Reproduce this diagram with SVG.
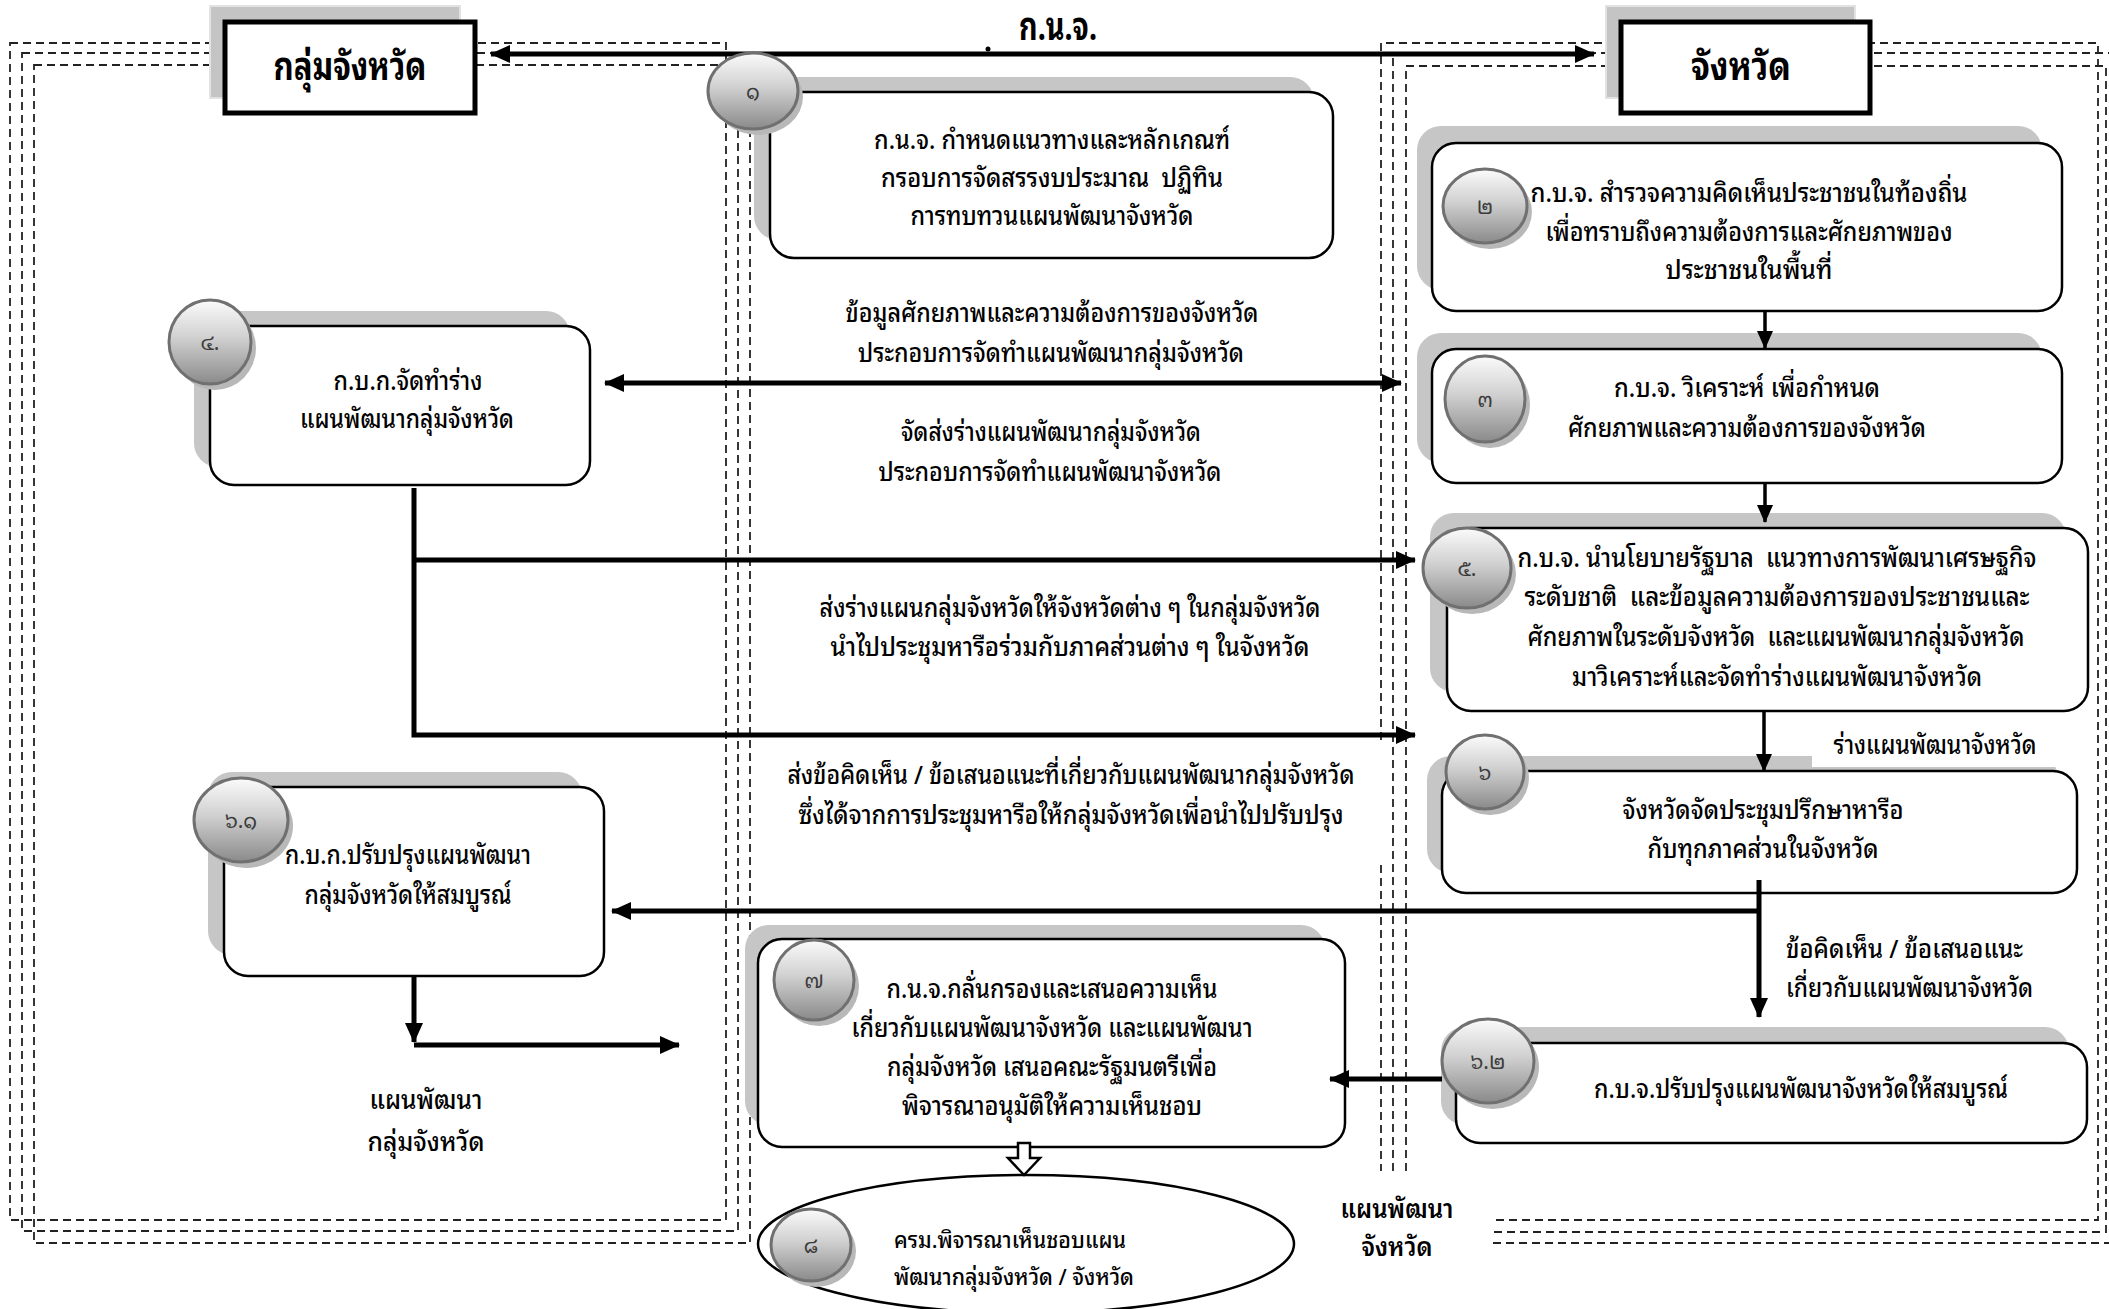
<svg xmlns="http://www.w3.org/2000/svg" width="2109" height="1309" viewBox="0 0 2109 1309">
<defs>
<linearGradient id="ball" x1="0" y1="0" x2="0" y2="1">
<stop offset="0" stop-color="#fbfbfb"/>
<stop offset="0.45" stop-color="#d0d0d0"/>
<stop offset="1" stop-color="#8a8a8a"/>
</linearGradient>
<marker id="ah" viewBox="0 0 20 18" refX="19" refY="9" markerWidth="20" markerHeight="18" markerUnits="userSpaceOnUse" orient="auto-start-reverse">
<path d="M0,0 L20,9 L0,18 z" fill="#000"/>
</marker>
<marker id="ahs" viewBox="0 0 18 16" refX="17" refY="8" markerWidth="18" markerHeight="16" markerUnits="userSpaceOnUse" orient="auto">
<path d="M0,0 L18,8 L0,16 z" fill="#000"/>
</marker>
</defs>
<style>
.t{font-family:"Noto Sans Thai Looped","Noto Sans Thai","Noto Sans","DejaVu Sans",sans-serif;font-size:26px;font-weight:500;fill:#000;text-anchor:middle;white-space:pre}
.ts{font-size:22px}
.l{text-anchor:start}
.hd{font-weight:bold;font-size:38px}
.bd{font-weight:600}
.num{font-family:"Noto Sans Thai Looped","Noto Sans Thai","Noto Sans","DejaVu Sans",sans-serif;font-size:21px;fill:#3c3c3c;text-anchor:middle}
.sh{fill:#c6c6c6}
.box{fill:#fff;stroke:#000;stroke-width:2.5}
.hsh{fill:#c4c4c4;stroke:#e2e2e2;stroke-width:2}
.hbox{fill:#fff;stroke:#000;stroke-width:5}
.bsh{fill:#b8b8b8}
.ball{fill:url(#ball);stroke:#707070;stroke-width:3}
.dash{fill:none;stroke:#222;stroke-width:1.8;stroke-dasharray:8 5}
.c{fill:none;stroke:#000;stroke-width:5}
.cs{fill:none;stroke:#000;stroke-width:3.5}
</style>
<rect width="2109" height="1309" fill="#fff"/>

<g id="frames">
<rect class="dash" x="10" y="43" width="716" height="1177"/>
<rect class="dash" x="22" y="53" width="716" height="1178"/>
<rect class="dash" x="34" y="65" width="716" height="1178"/>
<path class="dash" d="M1381,740 V43 H2098 V1220 H1493 M1381,865 V1171"/>
<path class="dash" d="M1393,1171 V53 H2125 M1493,1243 H2125"/>
<path class="dash" d="M1406,1171 V66 H2106 V1232 H1493"/>
</g>

<g id="connector-top">
<line class="c" x1="491" y1="54" x2="1594" y2="54" marker-start="url(#ah)" marker-end="url(#ah)"/>
<circle cx="988" cy="49" r="2.5" fill="#000"/>
</g>

<g id="hdr-group">
<rect class="hsh" x="210" y="6" width="250" height="92"/>
<rect class="hbox" x="225" y="22" width="250" height="91"/>
<text class="t hd" x="350" y="80" textLength="153" lengthAdjust="spacingAndGlyphs">กลุ่มจังหวัด</text>
</g>
<g id="hdr-province">
<rect class="hsh" x="1606" y="6" width="249" height="92"/>
<rect class="hbox" x="1621" y="22" width="249" height="91"/>
<text class="t hd" x="1741" y="80" textLength="100" lengthAdjust="spacingAndGlyphs">จังหวัด</text>
</g>
<g id="title">
<text class="t hd" x="1058" y="40" font-size="24" textLength="78" lengthAdjust="spacingAndGlyphs">ก.น.จ.</text>
</g>

<g id="n1">
<rect class="sh" x="754" y="77" width="560" height="163" rx="24"/>
<rect class="box" x="770" y="92" width="563" height="166" rx="24"/>
<ellipse class="bsh" cx="758" cy="97" rx="45" ry="38"/>
<ellipse class="ball" cx="753" cy="91" rx="45" ry="38"/>
<text class="num" x="753" y="99">๑</text>
<text class="t" x="1052" y="149" textLength="356" lengthAdjust="spacingAndGlyphs">ก.น.จ. กำหนดแนวทางและหลักเกณฑ์</text>
<text class="t" x="1052" y="187" textLength="342" lengthAdjust="spacingAndGlyphs">กรอบการจัดสรรงบประมาณ  ปฏิทิน</text>
<text class="t" x="1052" y="225" textLength="283" lengthAdjust="spacingAndGlyphs">การทบทวนแผนพัฒนาจังหวัด</text>
</g>

<g id="n2">
<rect class="sh" x="1417" y="126" width="625" height="164" rx="24"/>
<rect class="box" x="1432" y="143" width="630" height="168" rx="24"/>
<ellipse class="bsh" cx="1490" cy="212" rx="42" ry="37"/>
<ellipse class="ball" cx="1485" cy="206" rx="42" ry="37"/>
<text class="num" x="1485" y="214">๒</text>
<text class="t" x="1749" y="202" textLength="437" lengthAdjust="spacingAndGlyphs">ก.บ.จ. สำรวจความคิดเห็นประชาชนในท้องถิ่น</text>
<text class="t" x="1749" y="241" textLength="407" lengthAdjust="spacingAndGlyphs">เพื่อทราบถึงความต้องการและศักยภาพของ</text>
<text class="t" x="1749" y="279" textLength="167" lengthAdjust="spacingAndGlyphs">ประชาชนในพื้นที่</text>
</g>

<g id="n3">
<rect class="sh" x="1417" y="333" width="625" height="130" rx="24"/>
<rect class="box" x="1432" y="349" width="630" height="134" rx="24"/>
<ellipse class="bsh" cx="1490" cy="405" rx="40" ry="43"/>
<ellipse class="ball" cx="1485" cy="399" rx="40" ry="43"/>
<text class="num" x="1485" y="407">๓</text>
<text class="t" x="1747" y="397" textLength="266" lengthAdjust="spacingAndGlyphs">ก.บ.จ. วิเคราะห์ เพื่อกำหนด</text>
<text class="t" x="1747" y="437" textLength="358" lengthAdjust="spacingAndGlyphs">ศักยภาพและความต้องการของจังหวัด</text>
</g>

<g id="n4">
<rect class="sh" x="194" y="311" width="376" height="156" rx="24"/>
<rect class="box" x="210" y="326" width="380" height="159" rx="24"/>
<ellipse class="bsh" cx="215" cy="348" rx="41" ry="42"/>
<ellipse class="ball" cx="210" cy="342" rx="41" ry="42"/>
<text class="num" x="210" y="350">๔.</text>
<text class="t" x="408" y="390" textLength="149" lengthAdjust="spacingAndGlyphs">ก.บ.ก.จัดทำร่าง</text>
<text class="t" x="407" y="428" textLength="214" lengthAdjust="spacingAndGlyphs">แผนพัฒนากลุ่มจังหวัด</text>
</g>

<g id="n5">
<rect class="sh" x="1430" y="513" width="636" height="179" rx="24"/>
<rect class="box" x="1447" y="528" width="641" height="183" rx="24"/>
<ellipse class="bsh" cx="1472" cy="574" rx="44" ry="40"/>
<ellipse class="ball" cx="1467" cy="568" rx="44" ry="40"/>
<text class="num" x="1467" y="576">๕.</text>
<text class="t" x="1777" y="567" textLength="519" lengthAdjust="spacingAndGlyphs">ก.บ.จ. นำนโยบายรัฐบาล  แนวทางการพัฒนาเศรษฐกิจ</text>
<text class="t" x="1777" y="606" textLength="505" lengthAdjust="spacingAndGlyphs">ระดับชาติ  และข้อมูลความต้องการของประชาชนและ</text>
<text class="t" x="1776" y="646" textLength="497" lengthAdjust="spacingAndGlyphs">ศักยภาพในระดับจังหวัด  และแผนพัฒนากลุ่มจังหวัด</text>
<text class="t" x="1777" y="686" textLength="410" lengthAdjust="spacingAndGlyphs">มาวิเคราะห์และจัดทำร่างแผนพัฒนาจังหวัด</text>
</g>

<g id="n6">
<rect class="sh" x="1427" y="756" width="632" height="117" rx="24"/>
<rect class="box" x="1442" y="771" width="635" height="122" rx="24"/>
<ellipse class="bsh" cx="1490" cy="778" rx="39" ry="37"/>
<ellipse class="ball" cx="1485" cy="772" rx="39" ry="37"/>
<text class="num" x="1485" y="780">๖</text>
<text class="t" x="1763" y="819" textLength="281" lengthAdjust="spacingAndGlyphs">จังหวัดจัดประชุมปรึกษาหารือ</text>
<text class="t" x="1763" y="858" textLength="231" lengthAdjust="spacingAndGlyphs">กับทุกภาคส่วนในจังหวัด</text>
</g>

<g id="n61">
<rect class="sh" x="208" y="772" width="374" height="183" rx="24"/>
<rect class="box" x="224" y="787" width="380" height="189" rx="24"/>
<ellipse class="bsh" cx="246" cy="826" rx="47" ry="42"/>
<ellipse class="ball" cx="241" cy="820" rx="47" ry="42"/>
<text class="num" x="241" y="828">๖.๑</text>
<text class="t" x="408" y="864" textLength="246" lengthAdjust="spacingAndGlyphs">ก.บ.ก.ปรับปรุงแผนพัฒนา</text>
<text class="t" x="408" y="904" textLength="207" lengthAdjust="spacingAndGlyphs">กลุ่มจังหวัดให้สมบูรณ์</text>
</g>

<g id="n62">
<rect class="sh" x="1441" y="1027" width="628" height="98" rx="24"/>
<rect class="box" x="1456" y="1043" width="631" height="100" rx="24"/>
<ellipse class="bsh" cx="1493" cy="1067" rx="46" ry="42"/>
<ellipse class="ball" cx="1488" cy="1061" rx="46" ry="42"/>
<text class="num" x="1488" y="1069">๖.๒</text>
<text class="t" x="1801" y="1098" textLength="414" lengthAdjust="spacingAndGlyphs">ก.บ.จ.ปรับปรุงแผนพัฒนาจังหวัดให้สมบูรณ์</text>
</g>

<g id="n7">
<rect class="sh" x="745" y="925" width="580" height="200" rx="24"/>
<rect class="box" x="758" y="939" width="587" height="208" rx="24"/>
<ellipse class="bsh" cx="819" cy="986" rx="40" ry="40"/>
<ellipse class="ball" cx="814" cy="980" rx="40" ry="40"/>
<text class="num" x="814" y="988">๗</text>
<text class="t" x="1052" y="998" textLength="331" lengthAdjust="spacingAndGlyphs">ก.น.จ.กลั่นกรองและเสนอความเห็น</text>
<text class="t" x="1052" y="1037" textLength="401" lengthAdjust="spacingAndGlyphs">เกี่ยวกับแผนพัฒนาจังหวัด และแผนพัฒนา</text>
<text class="t" x="1052" y="1076" textLength="330" lengthAdjust="spacingAndGlyphs">กลุ่มจังหวัด เสนอคณะรัฐมนตรีเพื่อ</text>
<text class="t" x="1052" y="1115" textLength="300" lengthAdjust="spacingAndGlyphs">พิจารณาอนุมัติให้ความเห็นชอบ</text>
</g>

<g id="n8">
<ellipse class="box" cx="1026" cy="1244" rx="268" ry="69"/>
<ellipse class="bsh" cx="816" cy="1251" rx="40" ry="36"/>
<ellipse class="ball" cx="811" cy="1245" rx="40" ry="36"/>
<text class="num" x="811" y="1253">๘</text>
<text class="t ts l" x="894" y="1248" textLength="232" lengthAdjust="spacingAndGlyphs">ครม.พิจารณาเห็นชอบแผน</text>
<text class="t ts l" x="894" y="1285" textLength="240" lengthAdjust="spacingAndGlyphs">พัฒนากลุ่มจังหวัด / จังหวัด</text>
</g>

<g id="connectors">
<line class="c" x1="605" y1="383" x2="1401" y2="383" marker-start="url(#ah)" marker-end="url(#ah)"/>
<path class="c" d="M414,488 V735 H1415" marker-end="url(#ah)"/>
<path class="c" d="M414,560 H1415" marker-end="url(#ah)"/>
<path class="cs" d="M1765,312 V348" marker-end="url(#ahs)"/>
<path class="cs" d="M1765,483 V522" marker-end="url(#ahs)"/>
<path class="cs" d="M1764,711 V771" marker-end="url(#ahs)"/>
<path class="c" d="M1759,880 V1017" marker-end="url(#ah)"/>
<path class="c" d="M1759,911 H612" marker-end="url(#ah)"/>
<path class="c" d="M414,976 V1042" marker-end="url(#ah)"/>
<path class="c" d="M414,1045 H679" marker-end="url(#ah)"/>
<path class="c" d="M1442,1079 H1330" marker-end="url(#ah)"/>
<path d="M1018,1143 H1030 V1158 H1040 L1024,1175 L1008,1158 H1018 Z" fill="#fff" stroke="#000" stroke-width="2.5"/>
</g>

<g id="labels">
<text class="t" x="1052" y="322" textLength="413" lengthAdjust="spacingAndGlyphs">ข้อมูลศักยภาพและความต้องการของจังหวัด</text>
<text class="t" x="1051" y="362" textLength="386" lengthAdjust="spacingAndGlyphs">ประกอบการจัดทำแผนพัฒนากลุ่มจังหวัด</text>
<text class="t" x="1051" y="441" textLength="300" lengthAdjust="spacingAndGlyphs">จัดส่งร่างแผนพัฒนากลุ่มจังหวัด</text>
<text class="t" x="1050" y="481" textLength="343" lengthAdjust="spacingAndGlyphs">ประกอบการจัดทำแผนพัฒนาจังหวัด</text>
<text class="t" x="1070" y="617" textLength="501" lengthAdjust="spacingAndGlyphs">ส่งร่างแผนกลุ่มจังหวัดให้จังหวัดต่าง ๆ ในกลุ่มจังหวัด</text>
<text class="t" x="1070" y="656" textLength="479" lengthAdjust="spacingAndGlyphs">นำไปประชุมหารือร่วมกับภาคส่วนต่าง ๆ ในจังหวัด</text>
<text class="t" x="1071" y="784" textLength="567" lengthAdjust="spacingAndGlyphs">ส่งข้อคิดเห็น / ข้อเสนอแนะที่เกี่ยวกับแผนพัฒนากลุ่มจังหวัด</text>
<text class="t" x="1071" y="824" textLength="545" lengthAdjust="spacingAndGlyphs">ซึ่งได้จากการประชุมหารือให้กลุ่มจังหวัดเพื่อนำไปปรับปรุง</text>
<rect x="1812" y="722" width="250" height="45" fill="#fff"/>
<text class="t" x="1935" y="754" textLength="203" lengthAdjust="spacingAndGlyphs">ร่างแผนพัฒนาจังหวัด</text>
<text class="t l" x="1786" y="958" textLength="237" lengthAdjust="spacingAndGlyphs">ข้อคิดเห็น / ข้อเสนอแนะ</text>
<text class="t l" x="1786" y="997" textLength="247" lengthAdjust="spacingAndGlyphs">เกี่ยวกับแผนพัฒนาจังหวัด</text>
<text class="t" x="426" y="1109" textLength="113" lengthAdjust="spacingAndGlyphs">แผนพัฒนา</text>
<text class="t" x="426" y="1151" textLength="117" lengthAdjust="spacingAndGlyphs">กลุ่มจังหวัด</text>
<text class="t bd" x="1397" y="1218" textLength="113" lengthAdjust="spacingAndGlyphs">แผนพัฒนา</text>
<text class="t bd" x="1397" y="1256" textLength="71" lengthAdjust="spacingAndGlyphs">จังหวัด</text>
</g>
</svg>
